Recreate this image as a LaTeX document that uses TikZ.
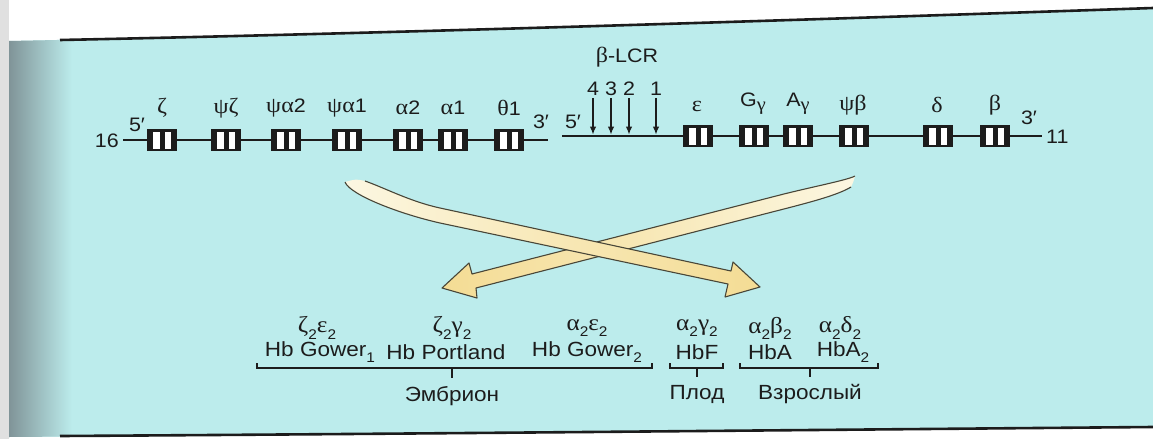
\documentclass[tikz,border=0pt]{standalone}
\usepackage{fontspec}
\setmainfont{Liberation Sans}[FakeStretch=1.1]
\newfontfamily\gk{Liberation Serif}[FakeStretch=1.1,Scale=1.12]
\usetikzlibrary{arrows.meta}

\definecolor{panel}{RGB}{188,236,236}
\definecolor{ink}{RGB}{28,28,28}
\definecolor{cream}{RGB}{252,247,226}
\definecolor{straw}{RGB}{244,220,148}
\definecolor{rim}{RGB}{72,70,56}
\definecolor{fold}{RGB}{128,148,152}

% lowered index for formulas and gene names
\newcommand\subix[1]{\raisebox{-0.3em}{\fontsize{14}{14}\selectfont #1}}
\newcommand\gsub[1]{\raisebox{-0.22em}{\fontsize{16.5}{16}\selectfont\gk #1}}

\begin{document}
\begin{tikzpicture}[x=1pt,y=-1pt,
  every node/.style={text=ink, inner sep=0pt},
  lbl/.style={font=\fontsize{19.5}{21}\selectfont},
  blbl/.style={font=\fontsize{20.5}{22}\selectfont},
  dna/.style={draw=ink, line width=2.4pt},
  lcr/.style={draw=ink, line width=1.2pt, -{Latex[length=8pt,width=6.5pt]}},
  brk/.style={draw=ink, line width=1.3pt},
  rimline/.style={draw=rim, line width=1.1pt, line join=round},
  genebox/.style={fill=ink, minimum width=30pt, minimum height=22pt,
    path picture={
      \fill[white] ([shift={(6pt,2.5pt)}]path picture bounding box.south west) rectangle ++(6.5pt,17pt);
      \fill[white] ([shift={(17.5pt,2.5pt)}]path picture bounding box.south west) rectangle ++(6.5pt,17pt);
    }},
]
\useasboundingbox (0,0) rectangle (1153,439);

% page and tinted panel
\fill[white] (0,0) rectangle (1153,439);
\fill[black!12] (0,0) rectangle (9,439);
\begin{scope}
  \clip (9,41) .. controls (400,33) and (800,20) .. (1153,8) -- (1153,427)
        .. controls (800,430) and (400,434) .. (9,437) -- cycle;
  \fill[panel] (0,0) rectangle (1153,439);
  \shade[left color=fold, right color=panel] (9,0) rectangle (72,439);
\end{scope}
\draw[ink, line width=2.6pt] (60,40) .. controls (400,33) and (800,20) .. (1153,8);
\draw[ink, line width=2.6pt] (60,436) .. controls (400,434) and (800,430) .. (1153,427);

% ---------- alpha-globin cluster (chromosome 16) ----------
\coordinate (a5) at (123,140);
\coordinate (a3) at (548,140);
\draw[dna] (a5) -- (a3);
\node[lbl, anchor=east] (chr16) at (119,141) {16};
\node[lbl] (a5lab) at (137,125) {5′};
\node[lbl] (a3lab) at (541,122) {3′};

\node[genebox] (zeta) at (162,140) {};
\node[genebox] (psizeta) at (226,140) {};
\node[genebox] (psia2) at (286,140) {};
\node[genebox] (psia1) at (347,140) {};
\node[genebox] (alpha2) at (408,140) {};
\node[genebox] (alpha1) at (453,140) {};
\node[genebox] (theta1) at (509,140) {};

\node[lbl] at (162,108) {\gk ζ};
\node[lbl] at (226,108) {\gk ψζ};
\node[lbl] at (286,108) {{\gk ψα}2};
\node[lbl] at (347,108) {{\gk ψα}1};
\node[lbl] at (408,108) {{\gk α}2};
\node[lbl] at (453,108) {{\gk α}1};
\node[lbl] at (509,108) {{\gk θ}1};

% ---------- beta-globin cluster (chromosome 11) ----------
\coordinate (b5) at (562,136);
\coordinate (b3) at (1042,136);
\draw[dna] (b5) -- (b3);
\node[lbl, anchor=west] (chr11) at (1046,137) {11};
\node[lbl] (b5lab) at (573,122) {5′};
\node[lbl] (b3lab) at (1029,118) {3′};
\node[lbl] (lcr) at (627,57) {{\gk β}-LCR};

\node[lbl] (hs4) at (593,89) {4};
\node[lbl] (hs3) at (611,89) {3};
\node[lbl] (hs2) at (629,89) {2};
\node[lbl] (hs1) at (656,89) {1};
\foreach \h in {hs4,hs3,hs2,hs1}
  \draw[lcr] ([yshift=-2pt]\h.south) -- ([yshift=1.5pt]\h.south |- b5);

\node[genebox] (eps) at (698,136) {};
\node[genebox] (ggam) at (754,136) {};
\node[genebox] (agam) at (798,136) {};
\node[genebox] (psib) at (854,136) {};
\node[genebox] (delta) at (938,136) {};
\node[genebox] (beta) at (995,136) {};

\node[lbl] at (697,106) {\gk ε};
\node[lbl] at (753,104) {G\gsub{γ}};
\node[lbl] at (798,104) {A\gsub{γ}};
\node[lbl] at (853,105) {\gk ψβ};
\node[lbl] at (937,105) {\gk δ};
\node[lbl] at (995,105) {\gk β};

% ---------- crossing arrows ----------
% arrow from the beta cluster down to the embryonic forms (drawn underneath)
\coordinate (bt1) at (855,176);
\coordinate (bt2) at (851,187);
\coordinate (bu) at (780,195);
\coordinate (bl) at (780,210);
\coordinate (bh1) at (472,274);
\coordinate (bb1) at (469,263);
\coordinate (btip) at (442,288);
\coordinate (bb2) at (477,298);
\coordinate (bh2) at (476,288);
\shade[left color=straw, right color=cream, middle color=straw!55!cream]
  (bt1) .. controls (848,180) and (810,187.3) .. (bu) -- (bh1) -- (bb1) -- (btip)
  -- (bb2) -- (bh2) -- (bl) .. controls (810,202.3) and (838,195) .. (bt2)
  .. controls (853,183) .. (bt1) -- cycle;
\draw[rimline]
  (bt1) .. controls (848,180) and (810,187.3) .. (bu) -- (bh1) -- (bb1) -- (btip)
  -- (bb2) -- (bh2) -- (bl) .. controls (810,202.3) and (838,195) .. (bt2);

% arrow from the alpha cluster down to the adult forms (drawn on top)
\coordinate (at1) at (345,182);
\coordinate (at2) at (365,181);
\coordinate (al) at (440,223);
\coordinate (au) at (440,208);
\coordinate (ah1) at (728,284);
\coordinate (ab1) at (725,297);
\coordinate (atip) at (760,287);
\coordinate (ab2) at (733,262);
\coordinate (ah2) at (731,271);
\shade[left color=cream, right color=straw, middle color=straw!55!cream]
  (at1) .. controls (350,195) and (400,214) .. (al) -- (ah1) -- (ab1) -- (atip)
  -- (ab2) -- (ah2) -- (au) .. controls (410,201.5) and (385,188) .. (at2)
  .. controls (356,179) .. (at1) -- cycle;
\draw[rimline]
  (at1) .. controls (350,195) and (400,214) .. (al) -- (ah1) -- (ab1) -- (atip)
  -- (ab2) -- (ah2) -- (au) .. controls (410,201.5) and (385,188) .. (at2);

% ---------- haemoglobins ----------
\node[blbl] (f1) at (317,328) {{\gk ζ}\subix{2}{\gk ε}\subix{2}};
\node[blbl] (f2) at (452,328) {{\gk ζ}\subix{2}{\gk γ}\subix{2}};
\node[blbl] (f3) at (587,328) {{\gk α}\subix{2}{\gk ε}\subix{2}};
\node[blbl] (f4) at (697,328) {{\gk α}\subix{2}{\gk γ}\subix{2}};
\node[blbl] (f5) at (770,328) {{\gk α}\subix{2}{\gk β}\subix{2}};
\node[blbl] (f6) at (840,328) {{\gk α}\subix{2}{\gk δ}\subix{2}};

\node[blbl] (g1) at (320,352) {Hb Gower\subix{1}};
\node[blbl] (g2) at (446,352) {Hb Portland};
\node[blbl] (g3) at (587,352) {Hb Gower\subix{2}};
\node[blbl] (g4) at (697,352) {HbF};
\node[blbl] (g5) at (770,352) {HbA};
\node[blbl] (g6) at (843,352) {HbA\subix{2}};

\node[blbl] (emb) at (452,396) {Эмбрион};
\node[blbl] (fet) at (697,394) {Плод};
\node[blbl] (adu) at (810,394) {Взрослый};

% group brackets
\coordinate (e1) at (257,368);
\coordinate (e2) at (652,368);
\coordinate (p1) at (670,368);
\coordinate (p2) at (723,368);
\coordinate (d1) at (740,368);
\coordinate (d2) at (878,368);
\draw[brk] ([yshift=5pt]e1) -- (e1) -- (e2) -- ([yshift=5pt]e2);
\draw[brk] (emb |- e1) -- ([yshift=-10pt]emb |- e1);
\draw[brk] ([yshift=5pt]p1) -- (p1) -- (p2) -- ([yshift=5pt]p2);
\draw[brk] (fet |- p1) -- ([yshift=-9pt]fet |- p1);
\draw[brk] ([yshift=5pt]d1) -- (d1) -- (d2) -- ([yshift=5pt]d2);
\draw[brk] (adu |- d1) -- ([yshift=-9pt]adu |- d1);
\end{tikzpicture}
\end{document}
